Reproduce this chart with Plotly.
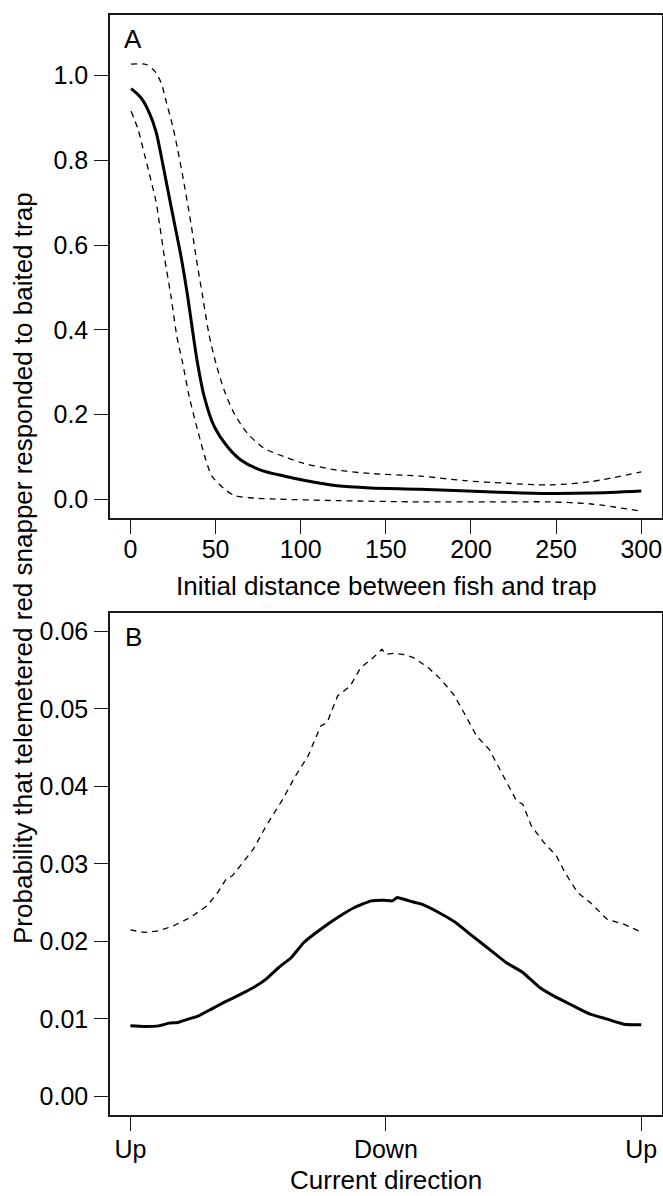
import plotly.graph_objects as go

# ---- Panel A data: initial distance vs probability ----
distA_mean = [0.4, 6.3, 11.1, 15, 18, 20.9, 25.8, 29.7, 33.6, 37.1, 39.4, 43.3, 49.2, 57, 64.8, 76.5, 90.1, 101.8,
              121.4, 140.9, 170.1, 209, 246, 270, 300]
probA_mean = [0.969, 0.947, 0.912, 0.868, 0.812, 0.752, 0.652, 0.573, 0.479, 0.381, 0.321, 0.243, 0.172, 0.124, 0.093,
              0.069, 0.055, 0.045, 0.032, 0.027, 0.024, 0.018, 0.014, 0.015, 0.020]

distA_upper = [0.4, 9.2, 14.1, 18, 20.9, 24.8, 27.7, 30.7, 35.5, 38.5, 42.4, 46.2, 50.2, 55, 60.9, 68.7, 78.4, 90.1,
               101.8, 121.4, 140.9, 170.1, 196.5, 221.3, 246, 270.8, 300]
probA_upper = [1.027, 1.026, 1.011, 0.983, 0.940, 0.881, 0.826, 0.763, 0.652, 0.573, 0.479, 0.388, 0.321, 0.258,
               0.203, 0.156, 0.121, 0.101, 0.085, 0.069, 0.061, 0.055, 0.044, 0.038, 0.034, 0.042, 0.065]

distA_lower = [0.4, 4.3, 8.2, 12.1, 15, 17, 19.9, 23.8, 27.3, 30.7, 34.5, 39.4, 44.3, 48.2, 60.5, 72.8, 82.4, 121.4,
               170.1, 220, 246, 270.8, 300]
probA_lower = [0.916, 0.875, 0.815, 0.752, 0.703, 0.652, 0.573, 0.479, 0.384, 0.321, 0.243, 0.164, 0.093, 0.053, 0.010,
               0.003, 0.001, -0.003, -0.006, -0.006, -0.006, -0.011, -0.028]

# ---- Panel B data: current direction (degrees, Up=0/360, Down=180) ----
dirB_mean = [0, 9.5, 19.9, 27.3, 33.3, 40.7, 48.1, 57, 65.9, 77.8, 86.7, 95.6, 104.5, 113.4, 122.2, 134.1, 146, 157.9,
             169.7, 178.6, 184.5, 188.1, 196.4, 205.3, 217.2, 229.1, 240.9, 252.8, 264.7, 276.5, 288.4, 300.2, 312.1,
             324, 335.9, 347.7, 360]
probB_mean = [0.00910, 0.00903, 0.00910, 0.00945, 0.00954, 0.00997, 0.0104, 0.01126, 0.01212, 0.01319, 0.01405, 0.01513,
              0.01663, 0.01792, 0.01986, 0.02157, 0.02308, 0.02437, 0.02522, 0.02531, 0.02522, 0.02566, 0.02522, 0.0248,
              0.02373, 0.02244, 0.02071, 0.0190, 0.01728, 0.01599, 0.01405, 0.01277, 0.01168, 0.01061, 0.00997, 0.00932,
              0.00923]

dirB_upper = [0, 9.5, 19.9, 30.3, 42.2, 54, 61.5, 67.4, 71.8, 86.6, 95.6, 107.4, 116.3, 125.2, 134.1, 138.6, 146, 154.9,
              162.3, 171.2, 177.2, 180.1, 186, 192, 199.4, 209.8, 218.7, 227.6, 235, 243.9, 252.8, 261.7, 272.1, 276.5,
              282.5, 291.4, 300.2, 306.2, 315.1, 324, 335.9, 347.7, 360]
probB_upper = [0.02148, 0.02115, 0.02136, 0.0220, 0.02308, 0.02458, 0.0263, 0.02802, 0.02845, 0.03189, 0.03489, 0.03834,
               0.04134, 0.04392, 0.04779, 0.04823, 0.05166, 0.05295, 0.05532, 0.05661, 0.05768, 0.05703, 0.05716,
               0.05703, 0.05661, 0.05532, 0.05381, 0.05188, 0.04952, 0.0465, 0.04478, 0.04178, 0.03812, 0.03769,
               0.03489, 0.03275, 0.03102, 0.02888, 0.0263, 0.02502, 0.02286, 0.02222, 0.02120]

ticksA_x = [0, 50, 100, 150, 200, 250, 300]
ticksA_y = [0.0, 0.2, 0.4, 0.6, 0.8, 1.0]
ticksB_x = [0, 180, 360]
ticksB_xtext = ["Up", "Down", "Up"]
ticksB_y = [0.00, 0.01, 0.02, 0.03, 0.04, 0.05, 0.06]

W, H = 663, 1196
FONT = "Liberation Sans, Arial, Helvetica, sans-serif"
FS = 26
TFS = 25
BOX = "#1a1a1a"

fig = go.Figure()
solid = dict(color="black", width=3)
dashed = dict(color="black", width=1.3, dash="6px,5px")

fig.add_trace(go.Scatter(x=distA_mean, y=probA_mean, mode="lines", line=dict(**solid, shape="spline", smoothing=0.8),
                         xaxis="x", yaxis="y"))
fig.add_trace(go.Scatter(x=distA_upper, y=probA_upper, mode="lines", line=dict(**dashed, shape="spline", smoothing=0.8),
                         xaxis="x", yaxis="y"))
fig.add_trace(go.Scatter(x=distA_lower, y=probA_lower, mode="lines", line=dict(**dashed, shape="spline", smoothing=0.8),
                         xaxis="x", yaxis="y"))
fig.add_trace(go.Scatter(x=dirB_mean, y=probB_mean, mode="lines", line=dict(**solid, shape="spline", smoothing=0.4),
                         xaxis="x2", yaxis="y2"))
fig.add_trace(go.Scatter(x=dirB_upper, y=probB_upper, mode="lines", line=dashed, xaxis="x2", yaxis="y2"))

xdom = [110 / W, 661.7 / W]
ydomA = [1 - 518 / H, 1 - 14.5 / H]
ydomB = [1 - 1115 / H, 1 - 612.7 / H]

common = dict(showline=True, linecolor=BOX, linewidth=1.5, mirror=True, ticks="outside", ticklen=14,
              tickwidth=1.3, tickcolor=BOX, showgrid=False, zeroline=False,
              tickfont=dict(family=FONT, size=TFS, color="black"))

fig.update_layout(
    width=W, height=H, margin=dict(l=0, r=0, t=0, b=0),
    paper_bgcolor="white", plot_bgcolor="white", showlegend=False,
    xaxis=dict(domain=xdom, range=[-12, 312], tickvals=ticksA_x, anchor="y", ticklabelstandoff=-6, **common),
    yaxis=dict(domain=ydomA, range=[-0.044, 1.144], tickvals=ticksA_y, tickformat=".1f", anchor="x",
               ticklabelstandoff=1, **common),
    xaxis2=dict(domain=xdom, range=[-14.4, 374.4], tickvals=ticksB_x, ticktext=ticksB_xtext, anchor="y2",
                ticklabelstandoff=-3, **common),
    yaxis2=dict(domain=ydomB, range=[-0.0024, 0.0624], tickvals=ticksB_y, tickformat=".2f", anchor="x2",
                ticklabelstandoff=1, **common),
    font=dict(family=FONT, size=FS, color="black"),
)

ann = [
    dict(text="Initial distance between fish and trap", x=386 / W, y=1 - 586 / H),
    dict(text="Current direction", x=386 / W, y=1 - 1180 / H),
    dict(text="Probability that telemetered red snapper responded to baited trap", x=23 / W, y=1 - 568 / H,
         textangle=-90),
    dict(text="A", x=133 / W, y=1 - 39 / H),
    dict(text="B", x=133 / W, y=1 - 637 / H),
]
for a in ann:
    fig.add_annotation(xref="paper", yref="paper", xanchor="center", yanchor="middle", showarrow=False,
                       font=dict(family=FONT, size=FS, color="black"), **a)

fig.write_html("out.html")
